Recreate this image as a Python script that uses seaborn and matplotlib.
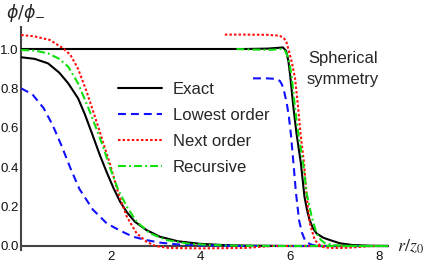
import matplotlib
matplotlib.use("Agg")
import matplotlib.pyplot as plt
import seaborn as sns
import pandas as pd
from matplotlib.lines import Line2D
from matplotlib.ticker import FixedLocator

# ---------------- data ----------------
# thick-wall profiles (left group)
exact_thick_r = [0, 0.3, 0.6, 0.85, 1.05, 1.27, 1.42, 1.6, 1.76, 1.91, 2.06, 2.21, 2.36, 2.54, 2.8, 3.1, 3.5, 4.0, 4.5, 5.0, 6.0, 8.2]
exact_thick_y = [0.958, 0.950, 0.927, 0.88, 0.826, 0.75, 0.67, 0.56, 0.46, 0.375, 0.295, 0.225, 0.172, 0.123, 0.081, 0.047, 0.024, 0.011, 0.005, 0.002, 0.0, 0.0]

lowest_thick_r = [0, 0.25, 0.5, 0.7, 0.9, 1.1, 1.3, 1.6, 1.91, 2.21, 2.5, 2.8, 3.1, 3.5, 4.0, 5.0, 6.0, 8.2]
lowest_thick_y = [0.80, 0.77, 0.70, 0.615, 0.51, 0.395, 0.29, 0.185, 0.115, 0.078, 0.047, 0.03, 0.017, 0.008, 0.003, 0.0, 0.0, 0.0]

next_thick_r = [0, 0.3, 0.64, 0.94, 1.1, 1.27, 1.46, 1.72, 1.88, 1.98, 2.17, 2.36, 2.58, 2.8, 3.0, 3.3, 4.0, 5.0, 5.3, 5.6, 6.0, 8.2]
next_thick_y = [1.071, 1.064, 1.046, 1.003, 0.97, 0.90, 0.785, 0.606, 0.49, 0.42, 0.267, 0.149, 0.064, 0.022, 0.0, -0.01, -0.012, -0.01, -0.005, 0.0, 0.0, 0.0]

recursive_thick_r = [0, 0.3, 0.6, 0.85, 1.05, 1.27, 1.49, 1.72, 1.85, 1.98, 2.17, 2.36, 2.58, 2.88, 3.25, 3.7, 4.2, 5.0, 6.0, 8.2]
recursive_thick_y = [0.995, 0.992, 0.978, 0.95, 0.91, 0.826, 0.707, 0.572, 0.49, 0.40, 0.284, 0.20, 0.123, 0.064, 0.03, 0.013, 0.005, 0.001, 0.0, 0.0]

# thin-wall profiles (right group)
exact_thin_r = [0, 5.0, 5.5, 5.75, 5.85, 5.92, 5.97, 6.01, 6.08, 6.15, 6.25, 6.33, 6.39, 6.44, 6.52, 6.6, 6.75, 6.9, 7.12, 7.4, 7.8, 8.2]
exact_thin_y = [1.0, 1.0, 1.002, 1.006, 1.008, 0.99, 0.94, 0.868, 0.71, 0.575, 0.42, 0.25, 0.18, 0.135, 0.09, 0.064, 0.042, 0.03, 0.014, 0.005, 0.001, 0.0]

lowest_thin_r = [5.18, 5.5, 5.7, 5.78, 5.83, 5.88, 5.93, 5.98, 6.03, 6.08, 6.14, 6.21, 6.27, 6.34, 6.45, 6.53, 6.7, 8.2]
lowest_thin_y = [0.851, 0.851, 0.848, 0.838, 0.818, 0.78, 0.73, 0.66, 0.56, 0.43, 0.27, 0.13, 0.07, 0.03, 0.01, 0.004, 0.0, 0.0]

next_thin_r = [4.55, 5.0, 5.5, 5.75, 5.85, 5.92, 5.97, 6.05, 6.12, 6.19, 6.24, 6.32, 6.38, 6.45, 6.56, 6.71, 6.9, 7.2, 7.5, 7.8, 8.2]
next_thin_y = [1.073, 1.073, 1.072, 1.068, 1.06, 1.04, 1.0, 0.93, 0.85, 0.70, 0.575, 0.42, 0.25, 0.115, 0.03, -0.004, -0.01, -0.01, -0.006, 0.0, 0.0]

recursive_thin_r = [4.81, 5.2, 5.6, 5.8, 5.9, 5.96, 6.0, 6.04, 6.12, 6.19, 6.3, 6.38, 6.49, 6.6, 6.7, 6.79, 7.0, 7.5, 8.2]
recursive_thin_y = [1.0, 0.997, 0.996, 1.0, 0.99, 0.96, 0.92, 0.868, 0.70, 0.575, 0.42, 0.267, 0.149, 0.064, 0.03, 0.014, 0.004, 0.0, 0.0]

series_labels = ["Exact", "Lowest order", "Next order", "Recursive"]
x_tick_values = [2, 4, 6, 8]
y_tick_values = [0.0, 0.2, 0.4, 0.6, 0.8, 1.0]
y_tick_labels = ["0.0", "0.2", "0.4", "0.6", "0.8", "1.0"]

# ---------------- style ----------------
sns.set_style("white")
plt.rcParams["font.family"] = ["Liberation Sans", "DejaVu Sans"]

W, H = 427, 267
fig = plt.figure(figsize=(W / 100, H / 100), dpi=100)

x0_px, sx = 21.2, 44.75     # pixel of r=0, px per unit
y0_px, sy = 246.0, 197.0    # pixel of y=0, px per unit
xlim = (0.0, 8.2)
ylim = (-0.02, 1.11)
left_px = x0_px + xlim[0] * sx
right_px = x0_px + xlim[1] * sx
bot_px = y0_px - ylim[0] * sy
top_px = y0_px - ylim[1] * sy
ax = fig.add_axes([left_px / W, 1 - bot_px / H, (right_px - left_px) / W, (bot_px - top_px) / H])

lw = 1.5
styles = {
    "Exact": dict(color="black", linestyle="-"),
    "Lowest order": dict(color="#1010ff", linestyle=(0, (3.8, 2.4))),
    "Next order": dict(color="#ff1010", linestyle=(0, (1.2, 1.0))),
    "Recursive": dict(color="#10e010", linestyle=(0, (3.8, 1.5, 0.9, 1.5))),
}

groups = [
    ("Exact", [(exact_thick_r, exact_thick_y), (exact_thin_r, exact_thin_y)]),
    ("Lowest order", [(lowest_thick_r, lowest_thick_y), (lowest_thin_r, lowest_thin_y)]),
    ("Next order", [(next_thick_r, next_thick_y), (next_thin_r, next_thin_y)]),
    ("Recursive", [(recursive_thick_r, recursive_thick_y), (recursive_thin_r, recursive_thin_y)]),
]

for name, curves in groups:
    for r, y in curves:
        df = pd.DataFrame({"r": r, "phi": y})
        sns.lineplot(data=df, x="r", y="phi", ax=ax, estimator=None, sort=False,
                     lw=lw, legend=False, **styles[name])

ax.set_xlim(*xlim)
ax.set_ylim(*ylim)
ax.set_xlabel("")
ax.set_ylabel("")

spine_color = "#444444"
for s in ["top", "right"]:
    ax.spines[s].set_visible(False)
ax.spines["left"].set_position(("data", 0))
ax.spines["bottom"].set_position(("data", 0))
for s in ["left", "bottom"]:
    ax.spines[s].set_color(spine_color)
    ax.spines[s].set_linewidth(1.5)
    ax.spines[s].set_zorder(1)

ax.xaxis.set_major_locator(FixedLocator(x_tick_values))
ax.xaxis.set_minor_locator(FixedLocator([v * 0.5 for v in range(1, 17) if v % 4 != 0]))
ax.yaxis.set_major_locator(FixedLocator(y_tick_values))
ax.set_yticklabels(y_tick_labels)
ax.yaxis.set_minor_locator(FixedLocator([round(v * 0.05, 2) for v in range(1, 23) if v % 4 != 0]))
ax.tick_params(which="major", direction="in", length=3.2, width=0.9, color=spine_color,
               labelsize=9.5, pad=2, labelcolor="#111111")
ax.tick_params(which="minor", direction="in", length=1.8, width=0.8, color=spine_color)
ax.tick_params(axis="x", which="major", pad=3.5)

# legend
handles = [Line2D([0], [0], lw=lw, **styles[n]) for n in series_labels]
ax.legend(handles, series_labels, loc="upper left",
          bbox_to_anchor=(118 / W, 1 - 82 / H), bbox_transform=fig.transFigure,
          frameon=False, fontsize=12, borderpad=0, borderaxespad=0,
          handlelength=2.65, handletextpad=0.65, labelspacing=0.66)

# annotations
fig.text(343 / W, 1 - 51 / H, "Spherical\nsymmetry", ha="center", va="top",
         fontsize=12, linespacing=1.5)
fig.text(6 / W, 1 - 13 / H, r"$\phi/\phi_{-}$", ha="left", va="center",
         fontsize=12.5, math_fontfamily="dejavusans")
fig.text(397 / W, 1 - 247 / H, r"$r/z_0$", ha="left", va="center",
         fontsize=13, math_fontfamily="stix")

fig.savefig("out.png", dpi=100)
